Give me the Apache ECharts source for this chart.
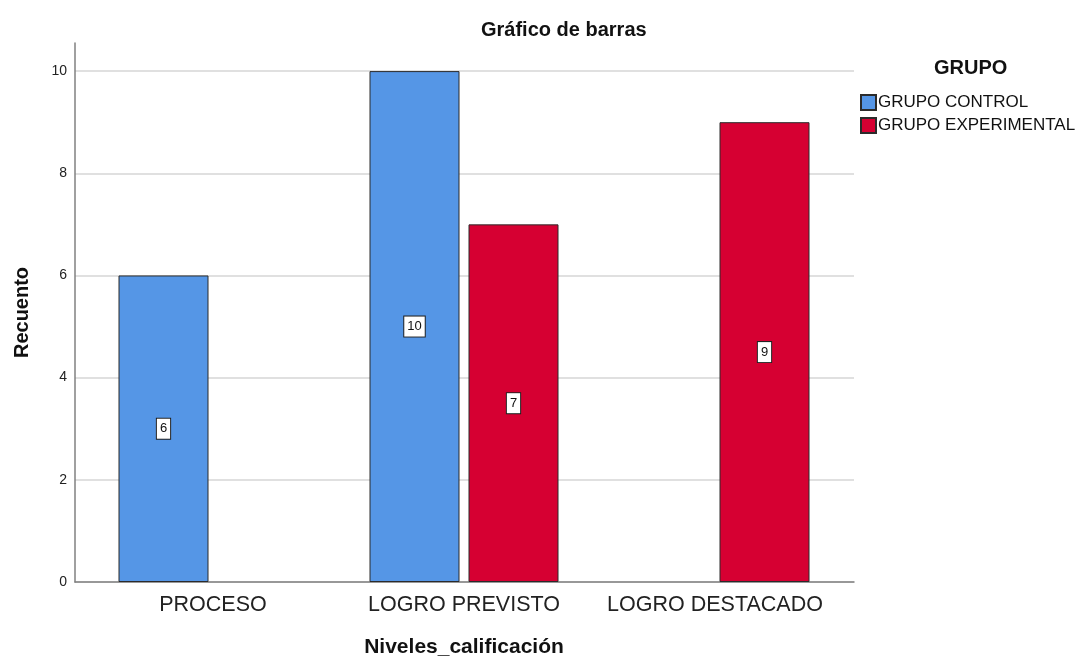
<!DOCTYPE html>
<html>
<head>
<meta charset="utf-8">
<script src="https://cdn.jsdelivr.net/npm/echarts@6/dist/echarts.min.js"></script>
<style>html,body{margin:0;padding:0;background:#fff}#c{width:1082px;height:659px}</style>
</head>
<body>
<div id="c"></div>
<script>
const categories = ['PROCESO', 'LOGRO PREVISTO', 'LOGRO DESTACADO'];
const seriesNames = ['GRUPO CONTROL', 'GRUPO EXPERIMENTAL'];
const controlValues = [6, 10, null];
const experimentalValues = [null, 7, 9];
const yTicks = [0, 2, 4, 6, 8, 10];

const FONT = '"Liberation Sans", Arial, sans-serif';
const Y_MAX = 10.55;
const labelStyle = {
  show: true, position: 'inside', backgroundColor: '#fff', borderColor: '#222', borderWidth: 1,
  padding: [4, 3, 3, 3], fontSize: 13, color: '#111', fontFamily: FONT,
  formatter: p => p.value == null ? '' : String(p.value)
};
const chart = echarts.init(document.getElementById('c'), null, {renderer: 'canvas'});
chart.setOption({
  animation: false,
  backgroundColor: '#fff',
  title: [
    {text: 'Gráfico de barras', left: 476, top: 15, textStyle: {fontFamily: FONT, fontSize: 20, fontWeight: 'bold', color: '#111'}},
    {text: 'GRUPO', left: 929, top: 53, textStyle: {fontFamily: FONT, fontSize: 20, fontWeight: 'bold', color: '#111'}}
  ],
  legend: {
    orient: 'vertical', left: 855, top: 89, itemWidth: 15, itemHeight: 15, itemGap: 6, icon: 'rect',
    data: seriesNames, selectedMode: false,
    textStyle: {fontFamily: FONT, fontSize: 17, color: '#111', lineHeight: 17, padding: [0, 0, 0, -3]}
  },
  grid: [
    {left: 75, right: 228, top: 43, bottom: 77, outerBoundsMode: 'none', containLabel: false},
    {left: 87.5, right: 241.5, top: 43, bottom: 77, outerBoundsMode: 'none', containLabel: false}
  ],
  xAxis: [
    {gridIndex: 0, type: 'category', data: [''], axisLine: {lineStyle: {color: '#808080', width: 1.5}}, axisTick: {show: false}, axisLabel: {show: false}},
    {gridIndex: 1, type: 'category', data: categories, axisLine: {show: false}, axisTick: {show: false},
      axisLabel: {fontFamily: FONT, fontSize: 21.5, color: '#222', margin: 12, interval: 0},
      name: 'Niveles_calificación', nameLocation: 'middle', nameGap: 55,
      nameTextStyle: {fontFamily: FONT, fontSize: 21, fontWeight: 'bold', color: '#111'}}
  ],
  yAxis: [
    {gridIndex: 0, type: 'value', min: 0, max: Y_MAX, interval: 2,
      axisLine: {show: true, lineStyle: {color: '#808080', width: 1.5}}, axisTick: {show: false},
      axisLabel: {fontFamily: FONT, fontSize: 14, color: '#222', margin: 8, showMaxLabel: false,
        formatter: v => yTicks.includes(v) ? String(v) : ''},
      splitLine: {show: true, lineStyle: {color: ['#d6d6d6', '#d6d6d6', '#d6d6d6', '#d6d6d6', '#d6d6d6', '#d6d6d6', 'rgba(0,0,0,0)'], width: 1.5}},
      name: 'Recuento', nameLocation: 'middle', nameGap: 43, nameRotate: 90,
      nameTextStyle: {fontFamily: FONT, fontSize: 20, fontWeight: 'bold', color: '#111'}},
    {gridIndex: 1, type: 'value', min: 0, max: Y_MAX, interval: 2, show: false, splitLine: {show: false}}
  ],
  series: [
    {name: seriesNames[0], type: 'bar', xAxisIndex: 1, yAxisIndex: 1, data: controlValues,
      barWidth: 90, barGap: '10%',
      itemStyle: {color: '#5596e6', borderColor: '#2b2b2b', borderWidth: 1}, label: labelStyle},
    {name: seriesNames[1], type: 'bar', xAxisIndex: 1, yAxisIndex: 1, data: experimentalValues,
      barWidth: 90, barGap: '10%',
      itemStyle: {color: '#d60032', borderColor: '#2b2b2b', borderWidth: 1}, label: labelStyle}
  ]
});
</script>
</body>
</html>
